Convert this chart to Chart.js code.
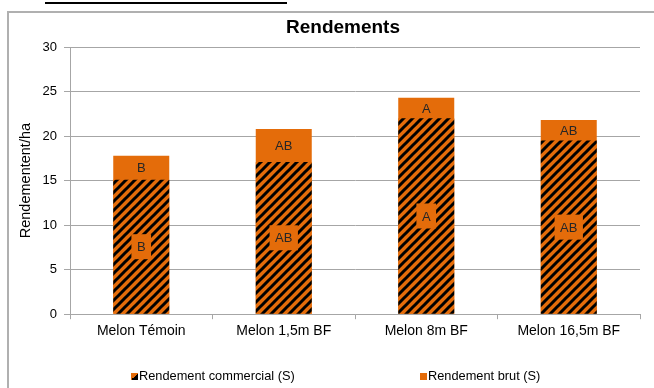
<!DOCTYPE html>
<html>
<head>
<meta charset="utf-8">
<script src="https://cdn.jsdelivr.net/npm/chart.js@4/dist/chart.umd.min.js"></script>
<style>
    body { margin: 0; background: #fff; font-family: "Liberation Sans", Arial, sans-serif; }
    #wrap { position: relative; width: 654px; height: 388px; overflow: hidden; }
    #topline { position: absolute; left: 45px; top: 2px; width: 242px; height: 2px; background: #000; }
    #frame { position: absolute; left: 7px; top: 11px; width: 660px; height: 400px;
             border-left: 2px solid #b0b0b0; border-top: 2px solid #b0b0b0; }
    #chart { position: absolute; left: 0; top: 0; }
    #title { position: absolute; left: 243px; width: 200px; top: 15px; text-align: center;
             font-size: 19px; font-weight: bold; line-height: 23px; color: #000; }
    .leg { position: absolute; top: 369px; font-size: 12.8px; color: #000; line-height: 14px; }
    .leg i { display: inline-block; width: 7px; height: 7px; margin-right: 1px; vertical-align: 0px; }
</style>
</head>
<body>
<div id="wrap">
    <div id="topline"></div>
    <div id="frame"></div>
    <canvas id="chart" width="654" height="388"></canvas>
    <div id="title">Rendements</div>
    <div class="leg" style="left:131px"><i style="background: linear-gradient(135deg, #E46C0A 50%, #000 50%)"></i>Rendement commercial (S)</div>
    <div class="leg" style="left:420px"><i style="background:#E46C0A"></i>Rendement brut (S)</div>
</div>
<script>
const categories = ['Melon Témoin', 'Melon 1,5m BF', 'Melon 8m BF', 'Melon 16,5m BF'];
const commercial = [15.1, 17.1, 22.0, 19.5];
const brut = [17.8, 20.8, 24.3, 21.8];
const lettersCommercial = ['B', 'AB', 'A', 'AB'];
const lettersBrut = ['B', 'AB', 'A', 'AB'];

const orange = '#E46C0A';

// orange with black "/" stripes
function makeHatch() {
    const size = 9;
    const c = document.createElement('canvas');
    c.width = size;
    c.height = size;
    const g = c.getContext('2d');
    g.fillStyle = orange;
    g.fillRect(0, 0, size, size);
    g.strokeStyle = '#000';
    g.lineWidth = 3;
    g.beginPath();
    g.moveTo(-2, size + 2); g.lineTo(size + 2, -2);
    g.moveTo(-2, 2); g.lineTo(2, -2);
    g.moveTo(size - 2, size + 2); g.lineTo(size + 2, size - 2);
    g.stroke();
    return g.createPattern(c, 'repeat');
}

const letterPlugin = {
    id: 'letters',
    afterDatasetsDraw(chart) {
        const ctx = chart.ctx;
        const m0 = chart.getDatasetMeta(0);
        const m1 = chart.getDatasetMeta(1);
        ctx.save();
        ctx.font = '13px "Liberation Sans", Arial';
        ctx.textAlign = 'center';
        ctx.textBaseline = 'middle';
        m0.data.forEach((bar, i) => {
            const yMid = (bar.y + bar.base) / 2;
            const w = ctx.measureText(lettersCommercial[i]).width + 11;
            ctx.fillStyle = orange;
            ctx.fillRect(bar.x - w / 2, yMid - 12.5, w, 25);
            ctx.fillStyle = '#262626';
            ctx.fillText(lettersCommercial[i], bar.x, yMid + 1);

            const top = m1.data[i];
            const yCap = (top.y + bar.y) / 2;
            ctx.fillText(lettersBrut[i], top.x, yCap + 1);
        });
        ctx.restore();
    }
};

const gridGray = '#a6a6a6';

new Chart(document.getElementById('chart'), {
    type: 'bar',
    data: {
        labels: categories,
        datasets: [{
            label: 'Rendement commercial (S)',
            data: commercial,
            backgroundColor: makeHatch(),
            grouped: false,
            barPercentage: 0.393,
            categoryPercentage: 1
        }, {
            label: 'Rendement brut (S)',
            data: brut,
            backgroundColor: orange,
            grouped: false,
            barPercentage: 0.393,
            categoryPercentage: 1
        }]
    },
    options: {
        responsive: false,
        animation: false,
        layout: { padding: { left: 0, right: 14, top: 47, bottom: 44 } },
        plugins: {
            legend: { display: false },
            tooltip: { enabled: false },
            title: { display: false }
        },
        scales: {
            x: {
                grid: { drawOnChartArea: false, color: gridGray, tickLength: 5 },
                border: { color: gridGray },
                ticks: { color: '#000', padding: 4, font: { family: '"Liberation Sans", Arial', size: 14 } }
            },
            y: {
                min: 0,
                max: 30,
                ticks: { stepSize: 5, color: '#000', padding: 7, font: { family: '"Liberation Sans", Arial', size: 13 } },
                grid: { color: gridGray, tickLength: 6 },
                border: { color: gridGray },
                title: {
                    display: true,
                    text: 'Rendementent/ha',
                    color: '#000',
                    padding: { top: 17, bottom: 0 },
                    font: { family: '"Liberation Sans", Arial', size: 14.5 }
                },
                afterFit(scale) { scale.width = 70; }
            }
        }
    },
    plugins: [letterPlugin]
});
</script>
</body>
</html>
